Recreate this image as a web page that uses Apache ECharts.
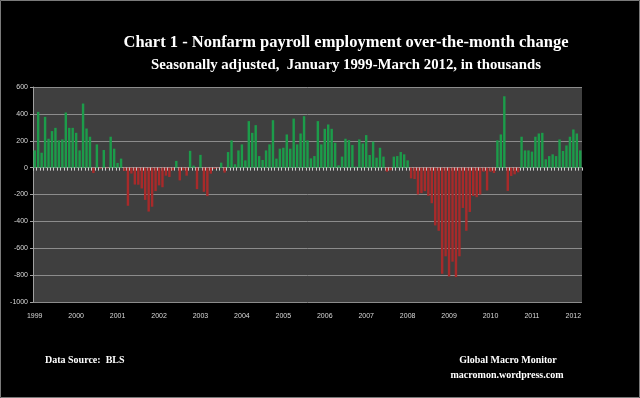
<!DOCTYPE html>
<html>
<head>
<meta charset="utf-8">
<script src="https://cdn.jsdelivr.net/npm/echarts@6/dist/echarts.min.js"></script>
<style>
  html, body { margin: 0; padding: 0; background: #000; }
  #chart { width: 640px; height: 398px; }
</style>
</head>
<body>
<div id="chart"></div>
<script>
// monthly change in nonfarm payrolls, thousands
var years = [1999, 2000, 2001, 2002, 2003, 2004, 2005, 2006, 2007, 2008, 2009, 2010, 2011, 2012];
var v1999 = [128, 415, 111, 378, 215, 272, 296, 203, 210, 410, 296, 296];
var v2000 = [259, 128, 477, 291, 230, -40, 173, -8, 131, -5, 230, 141];
var v2001 = [35, 67, -25, -284, -44, -126, -127, -155, -240, -327, -291, -175];
var v2002 = [-132, -146, -60, -70, -20, 50, -95, -20, -60, 125, 15, -160];
var v2003 = [95, -180, -212, -45, -10, -5, 37, -37, 116, 203, 25, 128];
var v2004 = [173, 54, 346, 259, 316, 86, 57, 128, 173, 353, 67, 141];
var v2005 = [148, 247, 141, 365, 173, 254, 383, 203, 69, 86, 346, 173];
var v2006 = [289, 321, 289, 185, 17, 82, 215, 205, 168, 7, 210, 180];
var v2007 = [242, 94, 193, 74, 148, 82, -30, -20, 82, 86, 116, 99];
var v2008 = [54, -80, -85, -200, -190, -175, -210, -265, -430, -470, -790, -660];
var v2009 = [-810, -700, -815, -660, -300, -470, -330, -210, -220, -200, -30, -170];
var v2010 = [-30, -40, 203, 247, 531, -173, -62, -50, -35, 230, 128, 128];
var v2011 = [119, 230, 254, 259, 62, 86, 99, 86, 210, 124, 165, 230];
var v2012 = [284, 254, 128];
var yTicks = [-1000, -800, -600, -400, -200, 0, 200, 400, 600];

var values = [].concat(v1999, v2000, v2001, v2002, v2003, v2004, v2005,
  v2006, v2007, v2008, v2009, v2010, v2011, v2012);
var months = [];
for (var i = 0; i < values.length; i++) {
  months.push(years[Math.floor(i / 12)] + '-' + ((i % 12) + 1));
}

var chart = echarts.init(document.getElementById('chart'));
var serif = 'Liberation Serif';
var option = {
  backgroundColor: '#000',
  animation: false,
  grid: {
    left: 33, right: 58, top: 87, bottom: 96,
    show: true, backgroundColor: '#3f3f3f', borderWidth: 0
  },
  xAxis: [
    {
      type: 'category',
      data: months,
      axisLine: { onZero: true, lineStyle: { color: '#a0a0a0', width: 1 } },
      axisTick: { show: true, interval: 0, length: 3, lineStyle: { color: '#cfcfcf' } },
      axisLabel: { show: false }
    },
    {
      type: 'category',
      data: months,
      position: 'bottom',
      axisLine: { show: false, onZero: false },
      axisTick: { show: false },
      axisLabel: {
        color: '#d8d8d8', fontSize: 7, fontFamily: 'Liberation Sans', margin: 11,
        interval: function (idx) { return idx % 12 === 0; },
        formatter: function (v) { return v.split('-')[0]; }
      }
    }
  ],
  yAxis: {
    type: 'value',
    min: yTicks[0], max: yTicks[yTicks.length - 1], interval: 200,
    axisLine: { show: true, lineStyle: { color: '#a0a0a0' } },
    axisTick: { show: true, length: 3, lineStyle: { color: '#a0a0a0' } },
    axisLabel: {
      color: '#d8d8d8', fontSize: 7, fontFamily: 'Liberation Sans', margin: 5,
      formatter: function (v) { return String(v); }
    },
    splitLine: { lineStyle: { color: '#8c8c8c', width: 1 } }
  },
  series: [{
    type: 'bar',
    xAxisIndex: 0,
    data: values,
    barCategoryGap: '30%',
    itemStyle: {
      color: function (p) { return p.value >= 0 ? '#1c9c4a' : '#a82a2a'; }
    }
  }],
  graphic: [
    { type: 'rect', shape: { x: 0.5, y: 0.5, width: 639, height: 397 },
      style: { fill: 'none', stroke: '#7a7a7a', lineWidth: 1 }, silent: true },
    { type: 'text', x: 346, y: 43,
      style: { text: 'Chart 1 - Nonfarm payroll employment over-the-month change',
        fill: '#fff', font: 'bold 16.5px ' + serif, textAlign: 'center', textVerticalAlign: 'middle' } },
    { type: 'text', x: 346, y: 65,
      style: { text: 'Seasonally adjusted,  January 1999-March 2012, in thousands',
        fill: '#fff', font: 'bold 14.8px ' + serif, textAlign: 'center', textVerticalAlign: 'middle' } },
    { type: 'text', x: 45, y: 360,
      style: { text: 'Data Source:  BLS', fill: '#fff', font: 'bold 10px ' + serif,
        textAlign: 'left', textVerticalAlign: 'middle' } },
    { type: 'text', x: 508, y: 360,
      style: { text: 'Global Macro Monitor', fill: '#fff', font: 'bold 10px ' + serif,
        textAlign: 'center', textVerticalAlign: 'middle' } },
    { type: 'text', x: 507, y: 375,
      style: { text: 'macromon.wordpress.com', fill: '#fff', font: 'bold 10px ' + serif,
        textAlign: 'center', textVerticalAlign: 'middle' } }
  ]
};
chart.setOption(option);
</script>
</body>
</html>
